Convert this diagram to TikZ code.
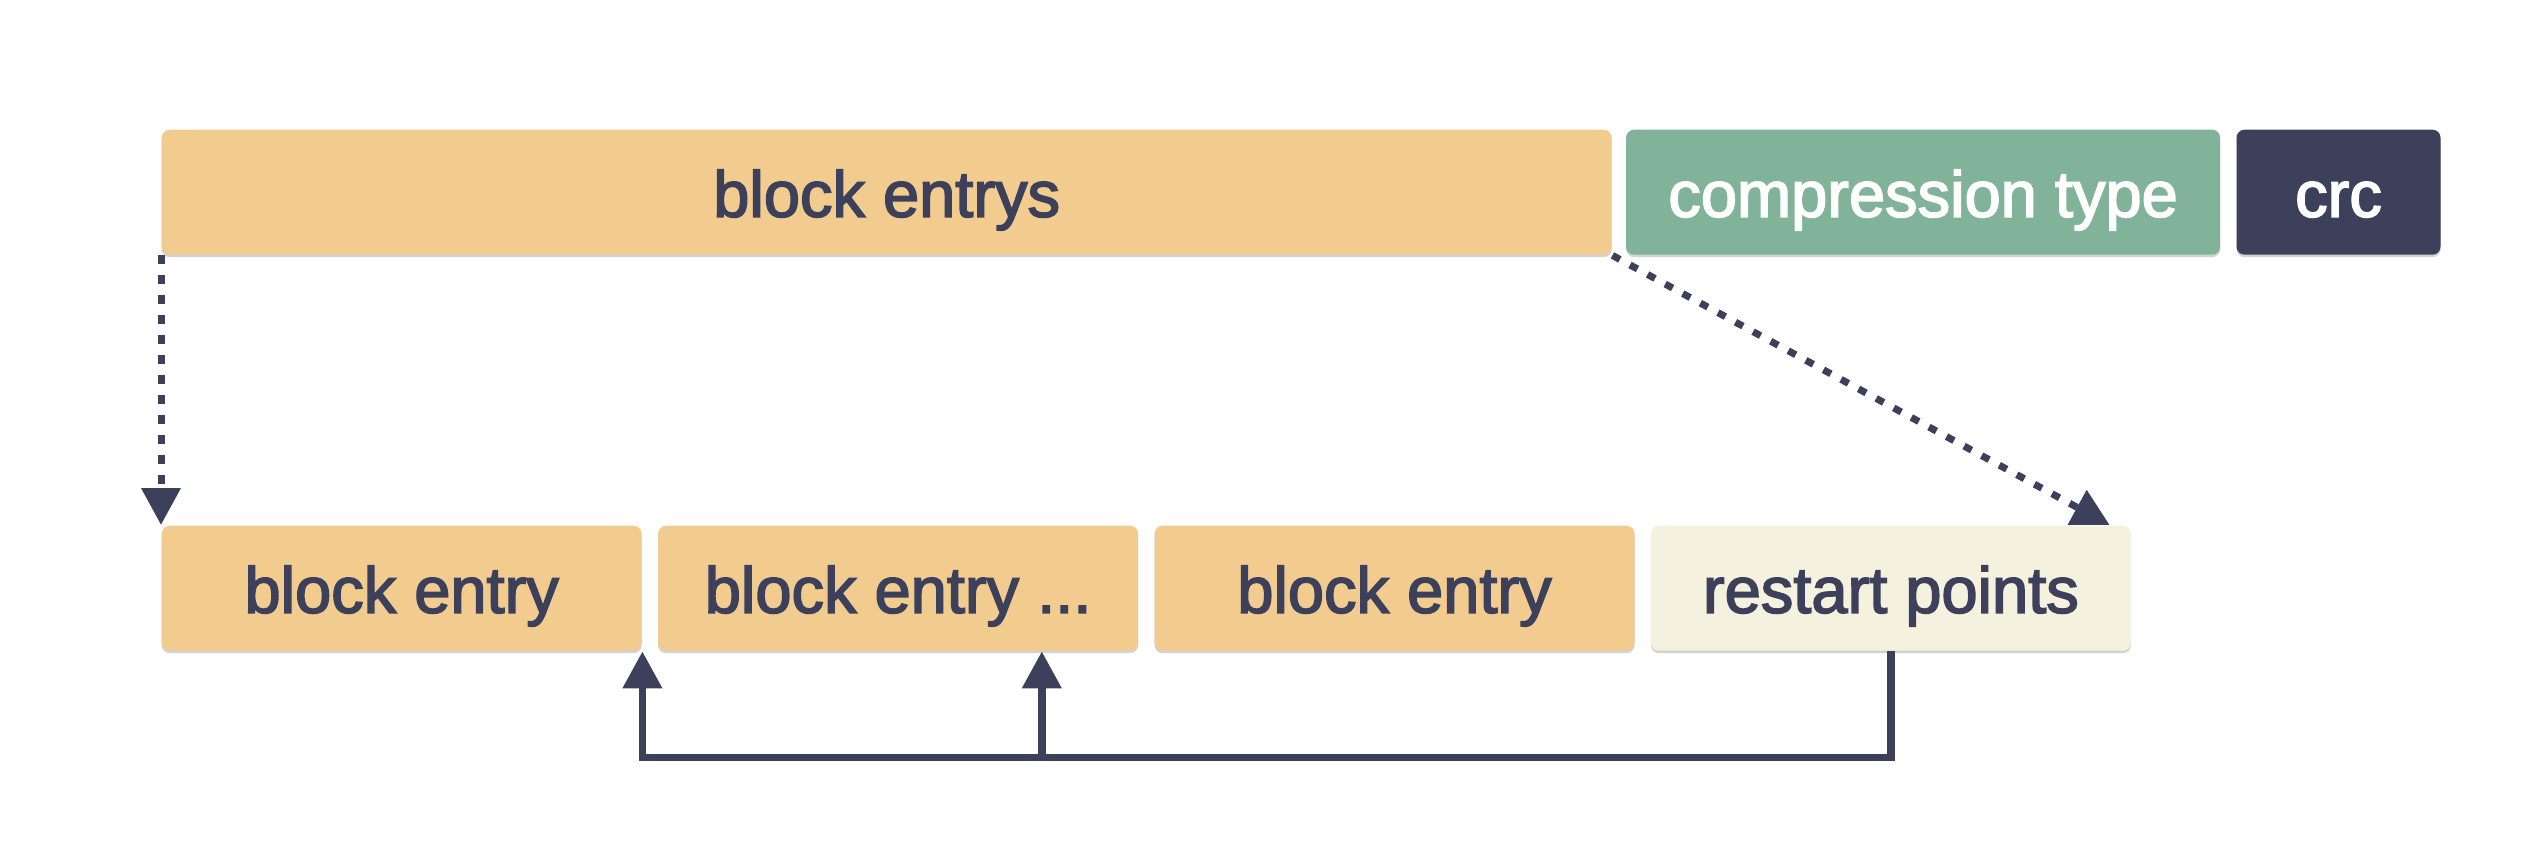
\documentclass[tikz,border=0pt]{standalone}
\usepackage{fontspec}
\setmainfont{Liberation Sans}[FakeBold=2.5]
\usetikzlibrary{positioning,arrows.meta,shadows}
\definecolor{sand}{HTML}{F2CC8F}
\definecolor{sage}{HTML}{81B29A}
\definecolor{navy}{HTML}{3D405B}
\definecolor{cream}{HTML}{F4F1DE}
\begin{document}
\begin{tikzpicture}[>={Triangle[width=0.38cm,length=0.37cm]}, node distance=0.15cm,
  box/.style={rounded corners=0.08cm, minimum height=1.25cm, inner sep=0pt, text=navy,
    text height=14pt, text depth=0pt, font=\fontsize{18.5}{22}\selectfont,
    drop shadow={shadow xshift=0pt, shadow yshift=-0.025cm, opacity=0.35}},
  link/.style={->, navy, line width=0.075cm},
  hint/.style={->, navy, line width=0.07cm, dash pattern=on 0.085cm off 0.115cm}]
\useasboundingbox (0,0) rectangle (25.26,-8.66);
\node[box, fill=sand, minimum width=14.5cm, anchor=north west] (blk) at (1.61,-1.29) {block entrys};
\node[box, fill=sage, text=white, minimum width=5.94cm, right=0.13cm of blk] (cmp) {compression type};
\node[box, fill=navy, text=white, minimum width=2.04cm, right=of cmp] (crc) {crc};
\node[box, fill=sand, minimum width=4.8cm, anchor=north west] (e1) at (1.61,-5.25) {block entry};
\node[box, fill=sand, minimum width=4.8cm, right=of e1] (e2) {block entry ...};
\node[box, fill=sand, minimum width=4.8cm, right=of e2] (e3) {block entry};
\node[box, fill=cream, minimum width=4.8cm, right=of e3] (rp) {restart points};
% dotted links from the top row
\coordinate (rpin) at ([xshift=-0.22cm]rp.north east);
\draw[hint] (blk.south west) -- (e1.north west);
\draw[hint] (blk.south east) -- (rpin);
% restart points refer back to entries
\path (rp.south) ++(0,-1.06) coordinate (low);
\coordinate (e2in) at ([xshift=-0.97cm]e2.south east);
\draw[link] (rp.south) -- (low) -| (e1.south east);
\draw[link] (e2in |- low) -- (e2in);
\end{tikzpicture}
\end{document}
